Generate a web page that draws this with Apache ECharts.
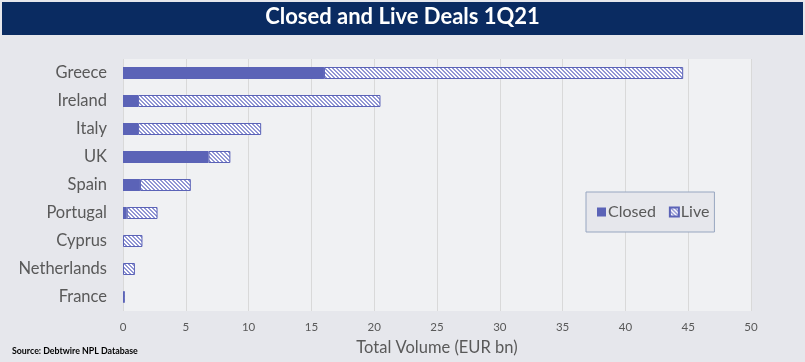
<!DOCTYPE html>
<html><head><meta charset="utf-8">
<script src="https://cdn.jsdelivr.net/npm/echarts@6/dist/echarts.min.js"></script>
<style>html,body{margin:0;padding:0;background:#e6e7ec;}#c{width:805px;height:362px;}</style>
</head><body><div id="c"></div>
<script>
const categories = ['Greece','Ireland','Italy','UK','Spain','Portugal','Cyprus','Netherlands','France'];
const closedValues = [16.0, 1.2, 1.2, 6.8, 1.35, 0.3, 0, 0, 0];
const liveValues = [28.6, 19.3, 9.8, 1.75, 4.05, 2.45, 1.55, 0.95, 0.15];
const xTicks = [0, 5, 10, 15, 20, 25, 30, 35, 40, 45, 50];

function makePattern(){
  const n = 4, c = document.createElement('canvas');
  c.width = n; c.height = n;
  const ctx = c.getContext('2d');
  const img = ctx.createImageData(n, n);
  for (let y = 0; y < n; y++) for (let x = 0; x < n; x++) {
    const i = (y*n + x)*4;
    const on = ((x - y) % n + n) % n < 2;
    const col = on ? [145,150,212] : [255,255,255];
    img.data[i]=col[0]; img.data[i+1]=col[1]; img.data[i+2]=col[2]; img.data[i+3]=255;
  }
  ctx.putImageData(img,0,0);
  return c;
}

const chart = echarts.init(document.getElementById('c'), null, {renderer:'canvas'});
const font = 'Lato';
chart.setOption({
  backgroundColor: '#e6e7ec',
  animation: false,
  textStyle: {fontFamily: font},
  graphic: [
    {type:'rect', shape:{x:2, y:2, width:801, height:33}, style:{fill:'#0a2b61'}, z:0},
    {type:'text', left:'center', top:6, style:{text:'Closed and Live Deals 1Q21', fill:'#ffffff', font:'bold 22px Lato', textAlign:'center'}},
    {type:'text', left:12, top:347, style:{text:'Source: Debtwire NPL Database', fill:'#000000', font:'bold 8.8px Lato'}}
  ],
  grid: {left:123, right:54, top:59, bottom:51, show:true, backgroundColor:'#f0f1f3', borderWidth:0},
  legend: {
    left: 586, top: 192, orient:'horizontal',
    backgroundColor:'#e6e7ec', borderColor:'#97a6c0', borderWidth:1,
    padding:[12, 5, 12, 11], itemWidth:9, itemHeight:9, itemGap:13,
    textStyle:{fontSize:16, color:'#595959', fontFamily:font, padding:[0,0,0,-3]},
    data:[{name:'Closed', icon:'rect'},{name:'Live', icon:'rect'}]
  },
  xAxis: {
    type:'value', min:xTicks[0], max:xTicks[xTicks.length-1], interval:5,
    name:'Total Volume (EUR bn)', nameLocation:'middle', nameGap:28,
    nameTextStyle:{fontSize:16.5, color:'#595959', fontFamily:font},
    axisLine:{show:false}, axisTick:{show:false},
    axisLabel:{fontSize:11.5, color:'#595959', margin:10},
    splitLine:{show:true, lineStyle:{color:'#d9d9d9', width:1}}
  },
  yAxis: {
    type:'category', data:categories, inverse:true,
    axisLine:{show:false}, axisTick:{show:false},
    axisLabel:{fontSize:16.5, color:'#595959', margin:16, padding:[2,0,0,0]}
  },
  series: [
    {name:'Closed', type:'bar', stack:'t', data:closedValues, barWidth:12,
     itemStyle:{color:'#5b63b7'}},
    {name:'Live', type:'bar', stack:'t', data:liveValues, barWidth:12,
     itemStyle:{color:{image:makePattern(), repeat:'repeat'}, borderColor:'#5b63b7', borderWidth:1}}
  ]
});
</script></body></html>
